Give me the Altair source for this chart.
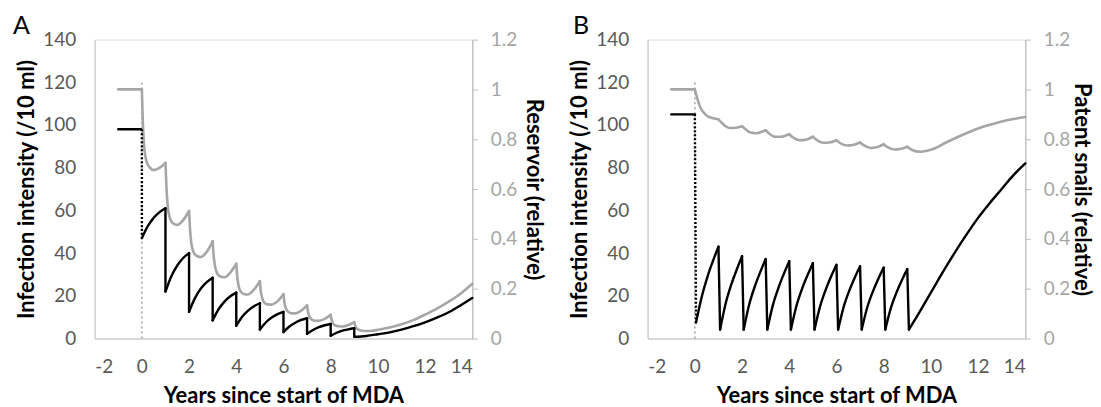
import altair as alt
import pandas as pd

# ---------------- Panel A : intensity (black, left axis) ----------------
a_black_x = [-1, 0,
             0, 0.25, 0.5, 0.75, 1,
             1, 1.25, 1.5, 1.75, 2,
             2, 2.25, 2.5, 2.75, 3,
             3, 3.25, 3.5, 3.75, 4,
             4, 4.25, 4.5, 4.75, 5,
             5, 5.25, 5.5, 5.75, 6,
             6, 6.25, 6.5, 6.75, 7,
             7, 7.25, 7.5, 7.75, 8,
             8, 8.25, 8.5, 8.75, 9,
             9, 9.5, 10, 10.5, 11, 11.5, 12, 12.5, 13, 13.5, 14]
a_black_v = [98, 98,
             47, 52.6, 56.5, 59.2, 61,
             22, 29.2, 34.2, 37.7, 40,
             12.5, 18.9, 23.4, 26.4, 28.5,
             8.5, 13.7, 17.3, 19.8, 21.5,
             6, 10.2, 13.1, 15.1, 16.5,
             4.2, 7.5, 9.8, 11.4, 12.5,
             3, 5.6, 7.4, 8.7, 9.5,
             2.2, 4.0, 5.3, 6.2, 6.8,
             1.3, 2.7, 3.7, 4.3, 4.8,
             0.8, 1.2, 2.0, 2.9, 4.2, 5.8, 7.6, 9.8, 12.3, 15.5, 19]
a_black_seg = [0] * 2 + [1] * 5 + [2] * 5 + [3] * 5 + [4] * 5 + [5] * 5 + \
              [6] * 5 + [7] * 5 + [8] * 5 + [9] * 5 + [10] * 11

# ---------------- Panel A : reservoir (grey, right axis) ----------------
a_grey_x = [-1, 0,
            0, 0.04, 0.1, 0.2, 0.35, 0.5, 0.75, 1,
            1, 1.04, 1.1, 1.2, 1.35, 1.5, 1.75, 2,
            2, 2.04, 2.1, 2.2, 2.35, 2.5, 2.75, 3,
            3, 3.04, 3.1, 3.2, 3.35, 3.5, 3.75, 4,
            4, 4.04, 4.1, 4.2, 4.35, 4.5, 4.75, 5,
            5, 5.04, 5.1, 5.2, 5.35, 5.5, 5.75, 6,
            6, 6.04, 6.1, 6.2, 6.35, 6.5, 6.75, 7,
            7, 7.04, 7.1, 7.2, 7.35, 7.5, 7.75, 8,
            8, 8.04, 8.1, 8.2, 8.35, 8.5, 8.75, 9,
            9, 9.04, 9.1, 9.2, 9.35, 9.5, 9.75, 10, 10.5, 11, 11.5, 12, 12.5, 13, 13.5, 14]
a_grey_r = [1.0, 1.0,
            1.0, 0.87, 0.77, 0.71, 0.685, 0.676, 0.685, 0.705,
            0.705, 0.61, 0.53, 0.48, 0.46, 0.456, 0.475, 0.512,
            0.512, 0.44, 0.38, 0.345, 0.33, 0.327, 0.348, 0.39,
            0.39, 0.335, 0.29, 0.26, 0.248, 0.246, 0.265, 0.30,
            0.30, 0.25, 0.21, 0.187, 0.178, 0.177, 0.196, 0.23,
            0.23, 0.19, 0.162, 0.143, 0.137, 0.136, 0.15, 0.178,
            0.178, 0.145, 0.122, 0.107, 0.101, 0.101, 0.112, 0.133,
            0.133, 0.107, 0.088, 0.076, 0.071, 0.071, 0.079, 0.095,
            0.095, 0.075, 0.061, 0.052, 0.049, 0.048, 0.054, 0.066,
            0.066, 0.052, 0.041, 0.035, 0.031, 0.030, 0.031, 0.035, 0.044, 0.057, 0.074,
            0.096, 0.12, 0.148, 0.18, 0.22]
a_grey_seg = [0] * 2 + [1] * 8 + [2] * 8 + [3] * 8 + [4] * 8 + [5] * 8 + \
             [6] * 8 + [7] * 8 + [8] * 8 + [9] * 8 + [10] * 16

# ---------------- Panel B : intensity (black, left axis) ----------------
b_black_x = [-1, 0,
             0.05, 0.3, 0.55, 0.8, 1,
             1.07, 1.3, 1.55, 1.8, 2,
             2.07, 2.3, 2.55, 2.8, 3,
             3.07, 3.3, 3.55, 3.8, 4,
             4.07, 4.3, 4.55, 4.8, 5,
             5.07, 5.3, 5.55, 5.8, 6,
             6.07, 6.3, 6.55, 6.8, 7,
             7.07, 7.3, 7.55, 7.8, 8,
             8.07, 8.3, 8.55, 8.8, 9,
             9.07, 9.5, 10, 10.5, 11, 11.5, 12, 12.5, 13, 13.5, 14]
b_black_v = [105, 105,
             7.5, 19.9, 29.5, 37.3, 43,
             4.2, 16.2, 25.5, 33.0, 38.5,
             4.2, 15.8, 24.7, 31.9, 37.2,
             4.2, 15.4, 24.0, 31.1, 36.2,
             4.2, 15.1, 23.5, 30.3, 35.3,
             4.2, 14.8, 23.0, 29.7, 34.5,
             4.2, 14.6, 22.6, 29.1, 33.8,
             4.2, 14.4, 22.2, 28.6, 33.2,
             4.2, 14.1, 21.7, 28.0, 32.5,
             4.2, 12, 21.5, 31, 40, 48.5, 56.5, 63.5, 70, 76.5, 82]
b_black_seg = [0] * 2 + [1] * 5 + [2] * 5 + [3] * 5 + [4] * 5 + [5] * 5 + \
              [6] * 5 + [7] * 5 + [8] * 5 + [9] * 5 + [10] * 11

# ---------------- Panel B : patent snails (grey, right axis) ----------------
b_grey_x = [-1, 0,
            0, 0.1, 0.2, 0.33, 0.5, 0.7, 1.0,
            1.0, 1.15, 1.3, 1.5, 1.75, 2.0,
            2.0, 2.15, 2.35, 2.6, 2.8, 3.0,
            3.0, 3.15, 3.4, 3.65, 3.85, 4.0,
            4.0, 4.15, 4.45, 4.7, 5.0,
            5.0, 5.15, 5.45, 5.7, 6.0,
            6.0, 6.15, 6.45, 6.7, 7.0,
            7.0, 7.15, 7.45, 7.7, 8.0,
            8.0, 8.15, 8.45, 8.7, 9.0,
            9.0, 9.2, 9.55, 9.8, 10.2, 10.6, 11.0, 11.5, 12.0, 12.5, 13.0, 13.5, 14.0]
b_grey_r = [1.0, 1.0,
            1.0, 0.965, 0.935, 0.912, 0.895, 0.886, 0.88,
            0.88, 0.865, 0.852, 0.845, 0.846, 0.852,
            0.852, 0.84, 0.827, 0.824, 0.829, 0.836,
            0.836, 0.823, 0.81, 0.81, 0.815, 0.82,
            0.82, 0.808, 0.796, 0.798, 0.81,
            0.81, 0.798, 0.786, 0.787, 0.796,
            0.796, 0.785, 0.775, 0.777, 0.787,
            0.787, 0.776, 0.765, 0.768, 0.78,
            0.78, 0.769, 0.759, 0.761, 0.77,
            0.77, 0.757, 0.75, 0.753, 0.765, 0.785, 0.803, 0.824, 0.843, 0.858, 0.871, 0.881, 0.889]
b_grey_seg = [0] * 2 + [1] * 7 + [2] * 6 + [3] * 6 + [4] * 6 + [5] * 5 + \
             [6] * 5 + [7] * 5 + [8] * 5 + [9] * 5 + [10] * 13

# dotted reference line at start of MDA (relative units)
ref_x = [0]
ref_lo = [0]
ref_hi = [1.03]

x_ticks = [-2, 0, 2, 4, 6, 8, 10, 12, 14]
left_ticks = [0, 20, 40, 60, 80, 100, 120, 140]
right_ticks = [0, 0.2, 0.4, 0.6, 0.8, 1.0, 1.2]

FONT = "Lato"
LABEL_GREY = "#595959"
LIGHT_GREY = "#a6a6a6"
AXIS_GREY = "#d0d0d0"
LABEL_SIZE = 19
TITLE_SIZE = 22


def frame(xs, ys, segs):
    return pd.DataFrame({"x": xs, "y": ys, "seg": segs, "i": list(range(len(xs)))})


def drops(df):
    rows = []
    segs = sorted(df["seg"].unique())
    for s in segs[1:]:
        prev = df[df["seg"] == s - 1].iloc[-1]
        cur = df[df["seg"] == s].iloc[0]
        kind = "dash" if s == 1 else "solid"
        rows.append({"x": prev["x"], "y": prev["y"], "d": s, "o": 0, "kind": kind})
        rows.append({"x": cur["x"], "y": cur["y"], "d": s, "o": 1, "kind": kind})
    return pd.DataFrame(rows)


def panel(letter, bx, bv, bs, gx, gr, gs, right_title, right_title_x):
    xenc = alt.X("x:Q", scale=alt.Scale(domain=[-2, 14], nice=False),
                 axis=alt.Axis(values=x_ticks, title="Years since start of MDA",
                               labelExpr="'' + datum.value",
                               grid=False, ticks=False, labelPadding=19,
                               labelColor=LABEL_GREY, labelFontSize=LABEL_SIZE, labelFont=FONT,
                               domainColor=AXIS_GREY, domainWidth=1.3,
                               titleFont=FONT, titleFontSize=TITLE_SIZE, titleFontWeight="bold",
                               titleColor="black", titlePadding=9))
    yleft_scale = alt.Scale(domain=[0, 140], nice=False)
    yright_scale = alt.Scale(domain=[0, 1.2], nice=False)

    bdf = frame(bx, bv, bs)
    gdf = frame(gx, gr, gs)
    ddf = drops(bdf)

    black = alt.Chart(bdf).mark_line(color="black", strokeWidth=2.4, interpolate="monotone",
                                     strokeCap="round", strokeJoin="round").encode(
        x=xenc,
        y=alt.Y("y:Q", scale=yleft_scale,
                axis=alt.Axis(orient="left", values=left_ticks, title="Infection intensity (/10 ml)",
                              grid=False, ticks=False, labelPadding=19,
                              labelColor=LABEL_GREY, labelFontSize=LABEL_SIZE, labelFont=FONT,
                              domainColor=AXIS_GREY, domainWidth=1.3,
                              titleFont=FONT, titleFontSize=TITLE_SIZE, titleFontWeight="bold",
                              titleColor="black", titleX=-68, titleBaseline="middle")),
        detail="seg:N", order="i:Q")

    grey = alt.Chart(gdf).mark_line(color=LIGHT_GREY, strokeWidth=2.6, interpolate="monotone",
                                    strokeCap="round", strokeJoin="round").encode(
        x=alt.X("x:Q"),
        y=alt.Y("y:Q", scale=yright_scale,
                axis=alt.Axis(orient="right", values=right_ticks, format="~g", title=right_title,
                              grid=False, ticks=True, tickSize=5, tickColor="#bfbfbf",
                              labelPadding=13,
                              labelColor=LIGHT_GREY, labelFontSize=LABEL_SIZE, labelFont=FONT,
                              domainColor="#bfbfbf", domainWidth=1.3,
                              titleFont=FONT, titleFontSize=TITLE_SIZE, titleFontWeight="bold",
                              titleColor="black", titleAngle=90, titleX=right_title_x,
                              titleBaseline="middle")),
        detail="seg:N", order="i:Q")

    ref = alt.Chart(pd.DataFrame({"x": ref_x, "lo": ref_lo, "hi": ref_hi})).mark_rule(
        color=LIGHT_GREY, strokeWidth=1.6, strokeDash=[2, 3]).encode(
        x=alt.X("x:Q"),
        y=alt.Y("lo:Q", scale=yright_scale, axis=None),
        y2="hi:Q")

    drop_solid = alt.Chart(ddf[ddf["kind"] == "solid"]).mark_line(
        color="black", strokeWidth=2.4, strokeCap="round").encode(
        x=alt.X("x:Q"),
        y=alt.Y("y:Q", scale=yleft_scale, axis=None),
        detail="d:N", order="o:Q")

    drop_dash = alt.Chart(ddf[ddf["kind"] == "dash"]).mark_line(
        color="black", strokeWidth=2.4, strokeDash=[2, 2]).encode(
        x=alt.X("x:Q"),
        y=alt.Y("y:Q", scale=yleft_scale, axis=None),
        detail="d:N", order="o:Q")

    dx = -82 if letter == "A" else -75
    return alt.layer(ref, black, grey, drop_solid, drop_dash).resolve_scale(
        y="independent").properties(
        width=379, height=300,
        title=alt.TitleParams(text=letter, anchor="start", frame="group", fontSize=25,
                              font=FONT, fontWeight="normal", color="black",
                              dx=dx, offset=-28, baseline="alphabetic"))


chart_a = panel("A", a_black_x, a_black_v, a_black_seg, a_grey_x, a_grey_r, a_grey_seg,
                "Reservoir (relative)", 61)
chart_b = panel("B", b_black_x, b_black_v, b_black_seg, b_grey_x, b_grey_r, b_grey_seg,
                "Patent snails (relative)", 56)

chart = alt.hconcat(chart_a, chart_b, spacing=23).configure_view(stroke=None).configure(
    padding={"left": 12, "top": 12, "right": 8, "bottom": 0}, background="white")

chart.save("out.html", embed_options={"renderer": "svg", "actions": False})
